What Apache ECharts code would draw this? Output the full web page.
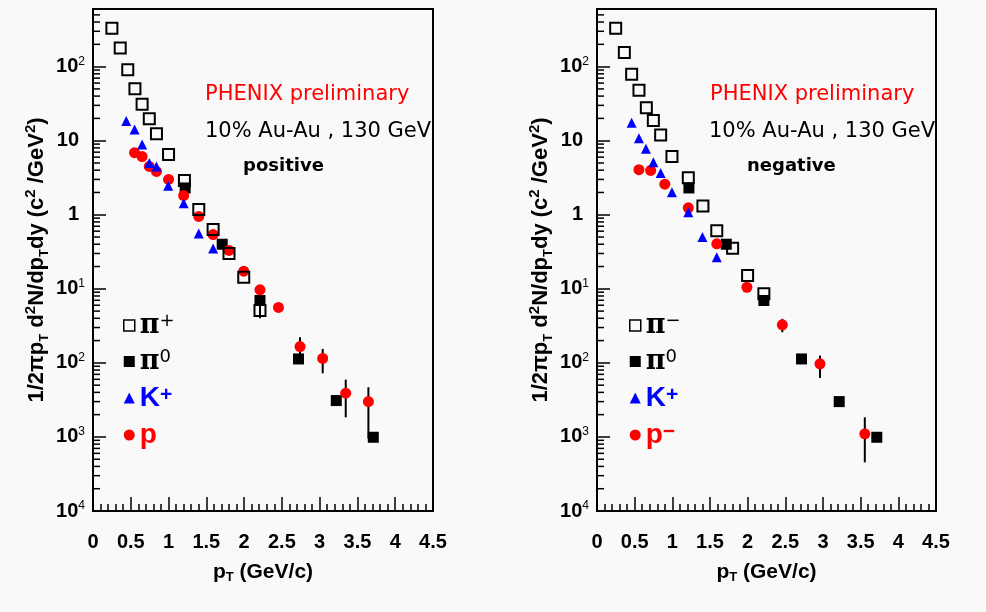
<!DOCTYPE html>
<html><head><meta charset="utf-8">
<script src="https://cdn.jsdelivr.net/npm/echarts@6/dist/echarts.min.js"></script>
<style>html,body{margin:0;padding:0;background:#f9f9f9}#c{width:986px;height:612px}</style>
</head><body><div id="c"></div><script>
// ---- data (pT in GeV/c, yield) ----
const xTicks = [0, 0.5, 1, 1.5, 2, 2.5, 3, 3.5, 4, 4.5];
const decades = [-4, -3, -2, -1, 0, 1, 2];
const minorMultipliers = [2, 3, 4, 5, 6, 7, 8, 9];

// positive panel
const piPlusPos = [[0.25,331],[0.36,178],[0.46,91],[0.555,50.4],[0.65,31],[0.745,19.8],[0.84,12.4],[1.0,6.5],[1.21,2.9],[1.40,1.18],[1.59,0.63],[1.80,0.30],[1.995,0.143],[2.21,0.051]];
const pi0Pos = [[1.22,2.3],[1.71,0.40],[2.21,0.0695],[2.72,0.0113],[3.22,0.0031],[3.71,0.00099]];
const kPlusPos = [[0.44,18.4],[0.55,14.2],[0.65,8.9],[0.745,5.0],[0.84,4.5],[0.995,2.46],[1.20,1.43],[1.40,0.56],[1.59,0.35]];
const protonPos = [[0.55,6.9],[0.65,6.1],[0.745,4.5],[0.84,3.85],[1.0,3.0],[1.2,1.82],[1.40,0.95],[1.59,0.54],[1.80,0.33],[1.995,0.173],[2.21,0.097],[2.455,0.056],[2.74,0.0166],[3.04,0.0115],[3.345,0.0039],[3.645,0.0030]];
const errPos = [[2.21,0.040,0.060],[2.74,0.0132,0.0222],[3.04,0.00723,0.01545],[3.345,0.00184,0.00594],[3.645,0.00095,0.00468]];

// negative panel
const piMinusNeg = [[0.248,330],[0.363,155],[0.46,78.7],[0.557,47.9],[0.655,27.9],[0.748,18.8],[0.845,11.9],[0.995,6.1],[1.212,3.16],[1.406,1.31],[1.59,0.61],[1.80,0.354],[1.999,0.151],[2.215,0.0856]];
const pi0Neg = [[1.22,2.3],[1.716,0.40],[2.215,0.0695],[2.715,0.0113],[3.215,0.0030],[3.714,0.00099]];
const kNeg = [[0.46,17.5],[0.557,10.8],[0.65,7.8],[0.748,5.1],[0.845,3.65],[0.995,2.02],[1.212,1.08],[1.40,0.50],[1.59,0.267]];
const pbarNeg = [[0.557,4.06],[0.712,3.97],[0.90,2.59],[1.212,1.24],[1.59,0.405],[1.99,0.105],[2.46,0.0327],[2.96,0.0097],[3.555,0.0011]];
const errNeg = [[2.46,0.0259,0.0393],[2.96,0.00627,0.01255],[3.555,0.000454,0.00184]];

// ---- chart ----
const SANS = 'Liberation Sans';
const minorTickVals = [];
decades.forEach(k => minorMultipliers.forEach(m => { const v = m * Math.pow(10, k); if (v <= 600) minorTickVals.push([0, v]); }));

const chart = echarts.init(document.getElementById('c'), null, {renderer: 'canvas'});

function xAxisCfg(gi) {
  return {
    type: 'value', gridIndex: gi, min: 0, max: 4.5, interval: 0.5,
    axisLine: {show: true, onZero: false, lineStyle: {color: '#000', width: 2}},
    axisTick: {show: true, inside: true, length: 14, lineStyle: {color: '#000', width: 1.5}},
    minorTick: {show: true, splitNumber: 5, length: 7, lineStyle: {color: '#000', width: 1.5}},
    splitLine: {show: false},
    axisLabel: {margin: 21, fontFamily: SANS, fontWeight: 'bold', fontSize: 20, color: '#000',
      formatter: v => String(v)},
    name: '{n|p}{sub|T}{n| (GeV/c)}', nameLocation: 'middle', nameGap: 49,
    nameTextStyle: {rich: {
      n: {fontFamily: SANS, fontWeight: 'bold', fontSize: 21, color: '#000', lineHeight: 24},
      sub: {fontFamily: SANS, fontWeight: 'bold', fontSize: 13, color: '#000', verticalAlign: 'bottom', lineHeight: 18}
    }}
  };
}
function yAxisCfg(gi) {
  return {
    type: 'log', gridIndex: gi, min: 1e-4, max: 600, logBase: 10, interval: 1,
    axisLine: {show: true, lineStyle: {color: '#000', width: 2}},
    axisTick: {show: true, inside: true, length: 13, lineStyle: {color: '#000', width: 1.5}},
    splitLine: {show: false},
    axisLabel: {margin: 8, color: '#000',
      formatter: v => {
        const lg = Math.log10(v), k = Math.round(lg);
        if (Math.abs(lg - k) > 1e-6) return '';
        if (k === 0) return '{np|1}';
        if (k === 1) return '{np|10}';
        return '{b|10}{s|' + Math.abs(k) + '}';
      },
      rich: {
        b: {fontFamily: SANS, fontWeight: 'bold', fontSize: 20, color: '#000', lineHeight: 22},
        np: {fontFamily: SANS, fontWeight: 'bold', fontSize: 20, color: '#000', lineHeight: 22, padding: [0, 6, 0, 0]},
        s: {fontFamily: SANS, fontSize: 12, color: '#000', verticalAlign: 'top', lineHeight: 12}
      }
    },
    name: '{n|1/2πp}{sub|T}{n| d}{sup|2}{n|N/dp}{sub|T}{n|dy (c}{sup|2}{n| /GeV}{sup|2}{n|)}',
    nameLocation: 'middle', nameGap: 42,
    nameTextStyle: {rich: {
      n: {fontFamily: SANS, fontWeight: 'bold', fontSize: 22, color: '#000', lineHeight: 28},
      sub: {fontFamily: SANS, fontWeight: 'bold', fontSize: 13, color: '#000', verticalAlign: 'bottom', lineHeight: 16},
      sup: {fontFamily: SANS, fontWeight: 'bold', fontSize: 15, color: '#000', verticalAlign: 'top', lineHeight: 16}
    }}
  };
}

function minorTickSeries(gi) {
  return {
    type: 'custom', xAxisIndex: gi, yAxisIndex: gi, data: minorTickVals, silent: true, z: 0,
    renderItem: (params, api) => {
      const p = api.coord([api.value(0), api.value(1)]);
      return {type: 'line', shape: {x1: p[0], y1: p[1], x2: p[0] + 7, y2: p[1]},
        style: {stroke: '#000', lineWidth: 1.5}};
    }
  };
}
function errSeries(gi, data) {
  return {
    type: 'custom', xAxisIndex: gi, yAxisIndex: gi, data: data, z: 1, silent: true,
    encode: {x: 0, y: [1, 2]},
    renderItem: (params, api) => {
      const a = api.coord([api.value(0), api.value(1)]);
      const b = api.coord([api.value(0), api.value(2)]);
      return {type: 'line', shape: {x1: a[0], y1: a[1], x2: b[0], y2: b[1]},
        style: {stroke: '#000', lineWidth: 2}};
    }
  };
}
function sc(name, gi, data, symbol, size, style, z) {
  return {name, type: 'scatter', xAxisIndex: gi, yAxisIndex: gi, data, symbol, symbolSize: size,
    itemStyle: Object.assign({opacity: 1}, style), z, silent: true};
}
const openSq = {color: 'rgba(0,0,0,0)', borderColor: '#000', borderWidth: 2};
const fillSq = {color: '#000'};
const blueTri = {color: '#0000ff'};
const redDot = {color: '#ff0000'};

const legendRich = {
  pi: {fontFamily: 'DejaVu Serif', fontWeight: 'bold', fontSize: 27, color: '#000', lineHeight: 26},
  sup: {fontFamily: 'DejaVu Sans', fontSize: 18, color: '#000', verticalAlign: 'top', lineHeight: 16},
  kb: {fontFamily: SANS, fontWeight: 'bold', fontSize: 28, color: '#0000ff', lineHeight: 26},
  ks: {fontFamily: SANS, fontWeight: 'bold', fontSize: 21, color: '#0000ff', verticalAlign: 'top', lineHeight: 16},
  pr: {fontFamily: SANS, fontWeight: 'bold', fontSize: 28, color: '#ff0000', lineHeight: 26},
  ps: {fontFamily: SANS, fontWeight: 'bold', fontSize: 21, color: '#ff0000', verticalAlign: 'top', lineHeight: 16}
};
const legendFmt = {'π+': '{pi|π}{sup|+}', 'π0': '{pi|π}{sup|0}', 'K+': '{kb|K}{ks|+}', 'p': '{pr|p}',
  'π−': '{pi|π}{sup|−}', 'p−': '{pr|p}{ps|−}'};
function legendCfg(left, names) {
  const icons = [
    {icon: 'rect', itemStyle: {color: 'rgba(0,0,0,0)', borderColor: '#000', borderWidth: 1.5, opacity: 1}},
    {icon: 'rect', itemStyle: {color: '#000', opacity: 1}},
    {icon: 'triangle', itemStyle: {color: '#0000ff', opacity: 1}},
    {icon: 'circle', itemStyle: {color: '#ff0000', opacity: 1}}
  ];
  return {
    orient: 'vertical', left: left, top: 312, itemGap: 9, itemWidth: 11, itemHeight: 11,
    selectedMode: false, padding: 0,
    data: names.map((n, i) => Object.assign({name: n}, icons[i])),
    formatter: n => legendFmt[n],
    textStyle: {rich: legendRich}
  };
}

chart.setOption({
  backgroundColor: '#f9f9f9',
  animation: false,
  grid: [
    {left: 93, top: 9, width: 340, height: 502, show: true, borderColor: '#000', borderWidth: 2, backgroundColor: 'transparent'},
    {left: 597, top: 9, width: 339, height: 502, show: true, borderColor: '#000', borderWidth: 2, backgroundColor: 'transparent'}
  ],
  xAxis: [xAxisCfg(0), xAxisCfg(1)],
  yAxis: [yAxisCfg(0), yAxisCfg(1)],
  legend: [legendCfg(123, ['π+', 'π0', 'K+', 'p']), legendCfg(629, ['π−', 'π0', 'K+', 'p−'])],
  graphic: [
    {type: 'text', left: 205, top: 84, silent: true, style: {text: 'PHENIX preliminary', font: '21px "DejaVu Sans"', fill: '#ff0000'}},
    {type: 'text', left: 205, top: 121, silent: true, style: {text: '10% Au-Au , 130 GeV', font: '21px "DejaVu Sans"', fill: '#000'}},
    {type: 'text', left: 243, top: 157, silent: true, style: {text: 'positive', font: 'bold 18px "DejaVu Sans"', fill: '#000'}},
    {type: 'text', left: 710, top: 84, silent: true, style: {text: 'PHENIX preliminary', font: '21px "DejaVu Sans"', fill: '#ff0000'}},
    {type: 'text', left: 709, top: 121, silent: true, style: {text: '10% Au-Au , 130 GeV', font: '21px "DejaVu Sans"', fill: '#000'}},
    {type: 'text', left: 747, top: 157, silent: true, style: {text: 'negative', font: 'bold 18px "DejaVu Sans"', fill: '#000'}}
  ],
  series: [
    minorTickSeries(0), minorTickSeries(1),
    errSeries(0, errPos), errSeries(1, errNeg),
    sc('π0', 0, pi0Pos, 'rect', 11, fillSq, 2),
    sc('p', 0, protonPos, 'circle', 11, redDot, 3),
    sc('K+', 0, kPlusPos, 'triangle', 10, blueTri, 4),
    sc('π+', 0, piPlusPos, 'rect', 11, openSq, 5),
    sc('π0', 1, pi0Neg, 'rect', 11, fillSq, 2),
    sc('p−', 1, pbarNeg, 'circle', 11, redDot, 3),
    sc('K+', 1, kNeg, 'triangle', 10, blueTri, 4),
    sc('π−', 1, piMinusNeg, 'rect', 11, openSq, 5)
  ]
});
</script></body></html>
